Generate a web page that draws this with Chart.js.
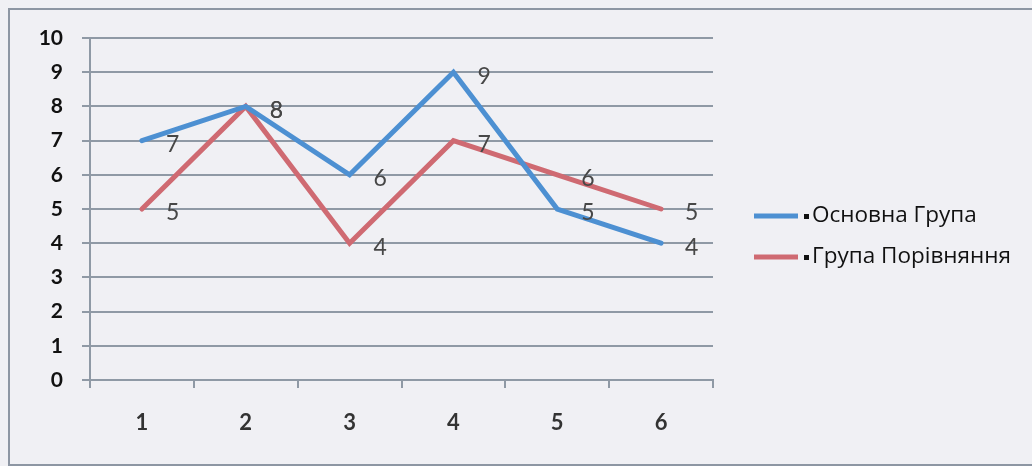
<!DOCTYPE html>
<html>
<head>
<meta charset="utf-8">
<script src="https://cdn.jsdelivr.net/npm/chart.js@4/dist/chart.umd.min.js"></script>
<style>
  html, body { margin: 0; padding: 0; background: #f0f0f4; }
  #wrap { width: 1032px; height: 466px; }
</style>
</head>
<body>
<div id="wrap"><canvas id="c" width="1032" height="466"></canvas></div>
<script>
// Categories and series
const categories = ['1', '2', '3', '4', '5', '6'];
const mainGroup = [7, 8, 6, 9, 5, 4];
const comparisonGroup = [5, 8, 4, 7, 6, 5];
const seriesNames = ['Основна Група', 'Група Порівняння'];
const yTicks = [0, 1, 2, 3, 4, 5, 6, 7, 8, 9, 10];

const BLUE = '#4d90d2';
const RED = '#cf6a72';
const GRID = '#8f99a5';
const FONT = 'Lato, "Open Sans", sans-serif';
const LEGEND_FONT = '"Open Sans", Lato, sans-serif';

// Page background and frame
const framePlugin = {
  id: 'frame',
  beforeDraw(chart) {
    const ctx = chart.ctx;
    ctx.save();
    ctx.fillStyle = '#f0f0f4';
    ctx.fillRect(0, 0, chart.width, chart.height);
    ctx.strokeStyle = '#8d96a3';
    ctx.lineWidth = 2;
    ctx.beginPath();
    ctx.moveTo(1040, 9);
    ctx.lineTo(9, 9);
    ctx.lineTo(9, 465);
    ctx.lineTo(1040, 465);
    ctx.stroke();
    ctx.restore();
  }
};

// Value labels to the right of each point
const valueLabels = {
  id: 'valueLabels',
  afterDatasetsDraw(chart) {
    const ctx = chart.ctx;
    ctx.save();
    ctx.font = '23px ' + FONT;
    ctx.fillStyle = '#474747';
    ctx.textAlign = 'left';
    ctx.textBaseline = 'middle';
    chart.data.datasets.forEach((ds, i) => {
      chart.getDatasetMeta(i).data.forEach((pt, j) => {
        ctx.fillText(String(ds.data[j]), pt.x + 24, pt.y + 4);
      });
    });
    ctx.restore();
  }
};

// Legend on the right: line sample, small bullet, series name
const sideLegend = {
  id: 'sideLegend',
  afterDraw(chart) {
    const ctx = chart.ctx;
    const x0 = 754, rows = [216, 257];
    ctx.save();
    chart.data.datasets.forEach((ds, i) => {
      const y = rows[i];
      ctx.strokeStyle = ds.borderColor;
      ctx.lineWidth = 5;
      ctx.beginPath();
      ctx.moveTo(x0, y);
      ctx.lineTo(x0 + 44, y);
      ctx.stroke();
      ctx.fillStyle = '#111';
      ctx.fillRect(x0 + 50, y - 2, 5, 5);
      ctx.font = '22.5px ' + LEGEND_FONT;
      ctx.textAlign = 'left';
      ctx.textBaseline = 'middle';
      ctx.fillText(ds.label, x0 + 58, y);
    });
    ctx.restore();
  }
};

new Chart(document.getElementById('c'), {
  type: 'line',
  data: {
    labels: categories,
    datasets: [
      { label: seriesNames[0], data: mainGroup, borderColor: BLUE, backgroundColor: BLUE },
      { label: seriesNames[1], data: comparisonGroup, borderColor: RED, backgroundColor: RED }
    ]
  },
  options: {
    responsive: false,
    animation: false,
    devicePixelRatio: 1,
    layout: { padding: { top: 38, right: 319, bottom: 0, left: 0 } },
    elements: {
      line: { borderWidth: 5, tension: 0, borderCapStyle: 'round', borderJoinStyle: 'miter' },
      point: { radius: 0, hoverRadius: 0 }
    },
    plugins: { legend: { display: false }, tooltip: { enabled: false } },
    scales: {
      x: {
        offset: true,
        grid: { offset: true, drawOnChartArea: false, drawTicks: true, tickLength: 8, color: GRID, lineWidth: 2 },
        border: { display: true, color: GRID, width: 2 },
        ticks: { color: '#333', font: { family: FONT, size: 22, weight: 'bold' }, padding: 22, maxRotation: 0 },
        afterFit(scale) { scale.height = 86; }
      },
      y: {
        min: 0,
        max: 10,
        afterBuildTicks(scale) { scale.ticks = yTicks.map(v => ({ value: v })); },
        grid: { color: GRID, lineWidth: 2, tickLength: 8 },
        border: { display: true, color: GRID, width: 2 },
        ticks: { color: '#111', font: { family: FONT, size: 21, weight: 'bold' }, padding: 19 },
        afterFit(scale) { scale.width = 90; }
      }
    }
  },
  plugins: [framePlugin, valueLabels, sideLegend]
});
</script>
</body>
</html>
